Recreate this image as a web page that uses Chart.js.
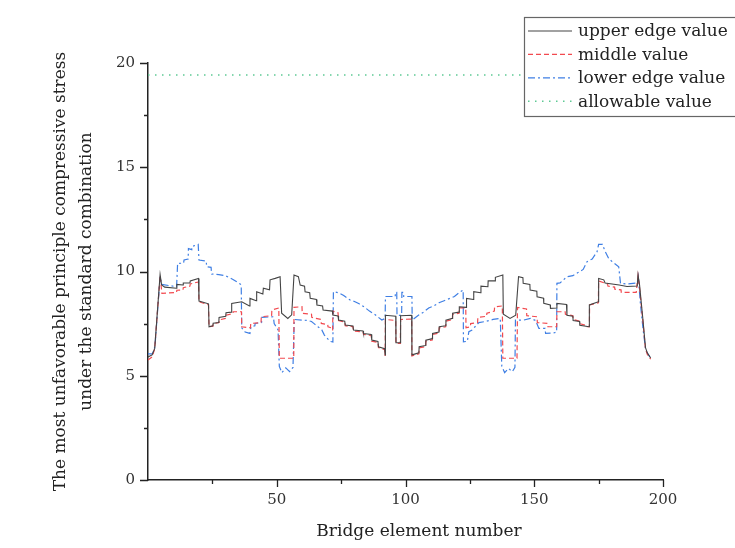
<!DOCTYPE html>
<html>
<head>
<meta charset="utf-8">
<script src="https://cdn.jsdelivr.net/npm/chart.js@4.4.1/dist/chart.umd.min.js"></script>
<style>
  html, body { margin: 0; padding: 0; background: #fff; }
</style>
</head>
<body>
<canvas id="stressChart" width="735" height="548"></canvas>
<script>
// element number / stress pairs
var upperEdge = [
  [0,5.9],[1.6,6.0],[2.6,6.3],[4.7,9.85],[5.3,9.35],[6.5,9.25],[11.1,9.2],[11.2,9.38],[13.6,9.35],[13.7,9.45],
  [16.3,9.45],[16.4,9.55],[19.6,9.67],[19.8,8.58],[23.5,8.45],[23.7,7.35],[25.2,7.4],[25.3,7.52],[27.5,7.55],[27.6,7.8],
  [30.2,7.85],[30.3,8.02],[32.4,8.05],[32.5,8.47],[36.4,8.55],[39.4,8.35],[39.6,8.71],[42.0,8.6],[42.2,9.03],[44.6,8.92],
  [44.8,9.2],[47.2,9.12],[47.4,9.6],[49.4,9.67],[51.3,9.75],[51.9,8.0],[54.3,7.75],[55.8,7.92],[56.7,9.83],[58.4,9.75],
  [59.1,9.35],[60.8,9.3],[61.0,9.03],[62.8,8.98],[63.0,8.71],[65.4,8.66],[65.6,8.39],[67.8,8.35],[68.0,8.15],[71.6,8.1],
  [71.8,7.91],[73.8,7.87],[74.0,7.67],[76.4,7.62],[76.6,7.43],[79.6,7.39],[79.8,7.19],[83.5,7.15],[83.7,7.03],[86.7,6.98],
  [86.9,6.71],[89.3,6.65],[89.5,6.39],[91.9,6.3],[92.1,6.0],[92.2,7.9],[96.2,7.85],[96.3,6.58],[98.0,6.58],[98.1,7.88],
  [102.4,7.9],[102.5,6.0],[105.2,6.1],[105.3,6.39],[107.8,6.45],[107.9,6.71],[110.4,6.78],[110.5,7.03],[113.0,7.1],[113.1,7.35],
  [115.6,7.4],[115.7,7.67],[118.2,7.75],[118.3,8.0],[120.8,8.05],[120.9,8.31],[123.6,8.28],[123.7,8.71],[126.4,8.66],[126.5,9.03],
  [129.2,8.98],[129.3,9.3],[132.0,9.27],[132.1,9.55],[134.8,9.55],[134.9,9.72],[137.8,9.83],[138.0,7.95],[140.6,7.75],[142.8,7.9],
  [143.9,9.75],[145.6,9.7],[145.7,9.43],[148.3,9.38],[148.4,9.11],[151.0,9.05],[151.1,8.79],[153.6,8.72],[153.7,8.47],[156.2,8.4],
  [156.3,8.23],[158.7,8.25],[158.8,8.47],[162.5,8.42],[162.7,7.9],[165.0,7.85],[165.1,7.65],[167.6,7.6],[167.7,7.42],[171.3,7.35],
  [171.4,8.4],[174.9,8.55],[175.0,9.67],[177.0,9.6],[177.5,9.45],[183.0,9.35],[186.0,9.28],[190.0,9.3],[190.3,9.83],[190.9,9.35],
  [192.2,7.7],[193.2,6.35],[193.9,6.1],[195.2,5.85]
];

var middleValue = [
  [0,5.75],[1.6,5.9],[2.6,6.3],[4.7,9.8],[5.4,8.95],[11.1,9.0],[11.2,9.1],[13.6,9.12],[13.7,9.22],[16.3,9.3],
  [16.4,9.4],[19.6,9.5],[19.8,8.55],[23.5,8.4],[23.7,7.35],[25.2,7.38],[25.3,7.5],[27.6,7.55],[27.7,7.68],[30.2,7.75],
  [30.3,7.9],[33.0,7.98],[33.1,8.07],[36.3,8.07],[36.4,7.35],[39.8,7.3],[39.9,7.51],[43.9,7.55],[44.0,7.83],[48.0,7.88],
  [48.1,8.15],[50.8,8.25],[51.0,5.84],[56.6,5.84],[56.7,8.28],[59.8,8.31],[59.9,7.99],[63.5,7.95],[63.6,7.8],[67.2,7.7],
  [67.3,7.51],[69.8,7.45],[69.9,7.35],[71.1,7.3],[71.2,7.2],[71.7,7.2],[71.8,8.1],[73.8,8.02],[74.0,7.65],[76.4,7.58],
  [76.6,7.4],[79.6,7.35],[79.8,7.15],[83.5,7.1],[83.7,6.98],[86.7,6.93],[86.9,6.66],[89.3,6.6],[89.5,6.35],[91.9,6.25],
  [92.1,5.95],[92.2,7.7],[96.2,7.65],[96.3,6.55],[98.0,6.55],[98.1,7.7],[102.4,7.72],[102.5,5.95],[105.2,6.05],[105.3,6.34],
  [107.8,6.4],[107.9,6.66],[110.4,6.72],[110.5,6.98],[113.0,7.05],[113.1,7.3],[115.6,7.35],[115.7,7.62],[118.2,7.7],[118.3,7.95],
  [120.8,8.0],[120.9,8.26],[123.4,8.25],[123.5,7.3],[125.2,7.35],[125.3,7.5],[128.0,7.55],[128.1,7.8],[131.5,7.85],[131.6,8.0],
  [134.5,8.1],[134.6,8.3],[137.6,8.35],[137.8,5.84],[143.3,5.84],[143.5,8.28],[147.0,8.2],[147.1,7.88],[151.1,7.83],[151.2,7.55],
  [155.2,7.51],[155.3,7.35],[158.7,7.35],[158.8,8.07],[162.0,8.07],[162.1,7.95],[165.0,7.88],[165.1,7.7],[167.6,7.62],[167.7,7.5],
  [170.0,7.42],[170.1,7.35],[171.4,7.35],[171.5,8.4],[174.9,8.5],[175.0,9.55],[178.5,9.4],[178.6,9.3],[181.2,9.25],[181.3,9.15],
  [183.7,9.12],[183.8,9.0],[189.6,9.0],[190.3,9.8],[190.9,9.2],[192.2,7.6],[193.2,6.3],[194.0,6.0],[195.2,5.8]
];

var lowerEdge = [
  [0,6.05],[1.7,6.05],[2.7,6.4],[4.7,9.75],[5.3,9.38],[11.1,9.27],[11.5,10.39],[13.8,10.4],[14.0,10.55],[15.6,10.6],
  [15.7,11.1],[17.0,11.05],[17.1,11.2],[19.5,11.3],[19.8,10.55],[22.6,10.5],[22.8,10.23],[24.5,10.2],[24.7,9.88],[27.5,9.85],
  [30.0,9.8],[33.0,9.62],[35.8,9.4],[36.2,9.35],[36.4,7.3],[37.7,7.1],[39.6,7.03],[40.0,7.35],[41.5,7.4],[41.6,7.51],
  [44.1,7.55],[44.2,7.8],[48.7,7.83],[49.0,7.5],[50.5,7.2],[51.0,5.45],[52.0,5.15],[53.5,5.38],[55.0,5.2],[56.3,5.4],
  [56.8,7.7],[62.0,7.65],[63.5,7.6],[64.5,7.5],[66.0,7.35],[67.5,7.2],[68.5,6.95],[70.7,6.65],[71.8,6.62],[72.0,9.03],
  [74.0,8.98],[76.0,8.85],[78.5,8.63],[80.4,8.55],[82.0,8.45],[84.0,8.3],[86.0,8.1],[88.0,7.95],[90.8,7.67],[92.1,7.75],
  [92.2,8.8],[96.0,8.8],[96.1,9.0],[96.6,9.0],[96.7,7.9],[98.5,7.9],[98.6,9.0],[99.2,9.0],[99.3,8.8],[102.5,8.8],
  [102.6,7.67],[105.0,7.9],[107.0,8.05],[109.0,8.25],[111.0,8.35],[113.0,8.5],[115.0,8.6],[117.0,8.7],[119.0,8.8],[121.0,9.0],
  [122.4,9.11],[122.5,6.63],[124.0,6.65],[124.6,7.11],[126.0,7.2],[127.0,7.35],[128.5,7.55],[130.9,7.6],[134.0,7.7],[136.8,7.75],
  [137.4,5.45],[138.5,5.15],[140.0,5.35],[141.5,5.2],[142.5,5.4],[142.7,7.67],[145.9,7.67],[148.5,7.75],[150.5,7.65],[151.8,7.27],
  [154.2,7.27],[154.4,7.03],[157.5,7.05],[158.7,7.1],[158.8,9.43],[160.0,9.45],[162.7,9.75],[165.0,9.8],[167.0,9.95],[169.0,10.1],
  [170.5,10.47],[172.5,10.6],[174.4,10.95],[175.0,11.3],[176.5,11.3],[177.4,11.0],[178.9,10.63],[180.0,10.5],[182.8,10.23],[183.5,9.43],
  [186.0,9.4],[190.0,9.45],[190.4,9.75],[191.2,8.5],[192.2,7.3],[193.2,6.3],[193.8,6.1],[195.2,5.85]
];

var allowableValue = [[0,19.43],[200,19.43]];

var seriesNames = ['upper edge value', 'middle value', 'lower edge value', 'allowable value'];
var xTicks = [50, 100, 150, 200];
var yTicks = [0, 5, 10, 15, 20];
var xTitle = 'Bridge element number';

var serif = "'DejaVu Serif', 'Liberation Serif', serif";

function toPoints(arr) {
  return arr.map(function (p) { return { x: p[0], y: p[1] }; });
}

// minor/major tick marks drawn by hand, chart.js has no minor ticks
var axisTicks = {
  id: 'axisTicks',
  afterDraw: function (chart) {
    var ctx = chart.ctx;
    var xs = chart.scales.x, ys = chart.scales.y;
    var area = chart.chartArea;
    ctx.save();
    ctx.strokeStyle = '#222';
    ctx.lineWidth = 1.3;
    ctx.beginPath();
    for (var v = 25; v <= 200; v += 25) {
      var px = Math.round(xs.getPixelForValue(v)) + 0.5;
      var len = xTicks.indexOf(v) >= 0 ? 7 : 4;
      ctx.moveTo(px, area.bottom);
      ctx.lineTo(px, area.bottom + len);
    }
    for (var w = 0; w <= 20; w += 2.5) {
      var py = Math.round(ys.getPixelForValue(w)) + 0.5;
      var l2 = yTicks.indexOf(w) >= 0 ? 8 : 4;
      ctx.moveTo(area.left, py);
      ctx.lineTo(area.left - l2, py);
    }
    ctx.stroke();

    // x title sits a bit right of the plot centre in the original
    ctx.fillStyle = '#222';
    ctx.font = '17px ' + serif;
    ctx.textAlign = 'center';
    ctx.textBaseline = 'middle';
    ctx.fillText(xTitle, 419, 532);
    ctx.restore();
  }
};

// boxed legend sitting in the top right corner
var boxLegend = {
  id: 'boxLegend',
  afterDraw: function (chart) {
    var ctx = chart.ctx;
    var left = 524.5, top = 17.5;
    ctx.save();
    ctx.fillStyle = '#fff';
    ctx.fillRect(left, top, 240, 99);
    ctx.strokeStyle = '#666';
    ctx.lineWidth = 1.2;
    ctx.strokeRect(left, top, 240, 99);
    ctx.font = '17px ' + serif;
    ctx.textBaseline = 'middle';
    chart.data.datasets.forEach(function (ds, i) {
      var y = 31 + i * 23.4;
      ctx.strokeStyle = ds.borderColor;
      ctx.lineWidth = ds.borderWidth;
      ctx.setLineDash(ds.borderDash || []);
      ctx.beginPath();
      ctx.moveTo(528, y);
      ctx.lineTo(572, y);
      ctx.stroke();
      ctx.setLineDash([]);
      ctx.fillStyle = '#222';
      ctx.fillText(ds.label, 578, y + 1);
    });
    ctx.restore();
  }
};

var ctx = document.getElementById('stressChart');

var chart = new Chart(ctx, {
  type: 'scatter',
  data: {
    datasets: [{
      label: seriesNames[0],
      data: toPoints(upperEdge),
      showLine: true,
      borderColor: '#444444',
      borderWidth: 1.1,
      pointRadius: 0
    }, {
      label: seriesNames[1],
      data: toPoints(middleValue),
      showLine: true,
      borderColor: '#f24a4f',
      borderWidth: 1.2,
      borderDash: [5, 3],
      pointRadius: 0
    }, {
      label: seriesNames[2],
      data: toPoints(lowerEdge),
      showLine: true,
      borderColor: '#3f7fe4',
      borderWidth: 1.2,
      borderDash: [7, 3, 2, 3],
      pointRadius: 0
    }, {
      label: seriesNames[3],
      data: toPoints(allowableValue),
      showLine: true,
      borderColor: '#5ec994',
      borderWidth: 1.5,
      borderDash: [1.5, 5.5],
      pointRadius: 0
    }]
  },
  options: {
    responsive: false,
    animation: false,
    layout: {
      padding: { top: 63, right: 72, left: 0, bottom: 0 }
    },
    plugins: {
      legend: { display: false },
      tooltip: { enabled: false }
    },
    scales: {
      x: {
        type: 'linear',
        min: 0,
        max: 200,
        ticks: {
          stepSize: 25,
          autoSkip: false,
          maxRotation: 0,
          padding: 11,
          color: '#333',
          font: { family: serif, size: 15 },
          callback: function (v) { return xTicks.indexOf(v) >= 0 ? v : ''; }
        },
        grid: { drawOnChartArea: false, drawTicks: false },
        border: { display: true, color: '#222', width: 1.5 },
        afterFit: function (scale) { scale.height = 68; }
      },
      y: {
        min: 0,
        max: 20,
        ticks: {
          stepSize: 2.5,
          autoSkip: false,
          padding: 13,
          color: '#333',
          font: { family: serif, size: 15 },
          callback: function (v) { return yTicks.indexOf(v) >= 0 ? v : ''; }
        },
        grid: { drawOnChartArea: false, drawTicks: false },
        border: { display: true, color: '#222', width: 1.5 },
        title: {
          display: true,
          text: ['The most unfavorable principle compressive stress', 'under the standard combination'],
          color: '#222',
          font: { family: serif, size: 17, lineHeight: 1.55 },
          padding: { top: 47, bottom: 0 }
        },
        afterFit: function (scale) { scale.width = 148; }
      }
    }
  },
  plugins: [axisTicks, boxLegend]
});
</script>
</body>
</html>
